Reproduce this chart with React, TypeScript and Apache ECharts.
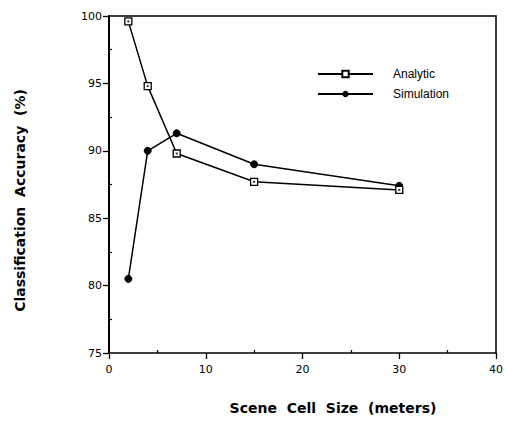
import React, { useEffect, useRef } from "react";
import * as echarts from "echarts";

const cellSizes = [2, 4, 7, 15, 30];
const analytic = [99.6, 94.8, 89.8, 87.7, 87.1];
const simulation = [80.5, 90.0, 91.3, 89.0, 87.4];
const seriesNames = ["Analytic", "Simulation"];
const xMinorTicks = [5, 15, 25, 35];
const yMinorTicks = [77.5, 82.5, 87.5, 92.5, 97.5];

export default function App() {
  const ref = useRef<HTMLDivElement>(null);
  useEffect(() => {
    if (!ref.current) return;
    const chart = echarts.init(ref.current, null, { renderer: "svg" });
    const font = "'Liberation Sans', Arial, Helvetica, sans-serif";
    const dv = "'DejaVu Sans', sans-serif";
    const aData = cellSizes.map((x, i) => [x, analytic[i]]);
    const sData = cellSizes.map((x, i) => [x, simulation[i]]);
    const hidden = { show: false };
    const noLine = { show: false, onZero: false };
    chart.setOption({
      animation: false,
      backgroundColor: "#fff",
      grid: { left: 109, right: 8, top: 16, bottom: 70 },
      legend: {
        data: seriesNames,
        orient: "vertical",
        left: 312,
        top: 63,
        itemWidth: 55,
        itemHeight: 8,
        itemGap: 8,
        textStyle: { fontFamily: font, fontSize: 12, color: "#000", padding: [0, 0, 0, 15] },
      },
      xAxis: [
        {
          type: "value",
          min: 0,
          max: 40,
          interval: 10,
          position: "bottom",
          name: "Scene  Cell  Size  (meters)",
          nameLocation: "middle",
          nameGap: 48,
          nameTextStyle: { fontFamily: dv, fontSize: 14, fontWeight: "bold", color: "#000", padding: [0, 0, 0, 61] },
          axisLine: { show: true, onZero: false, lineStyle: { color: "#000", width: 1.5 } },
          axisTick: { show: true, inside: false, length: 6, lineStyle: { color: "#000", width: 1.3 } },
          splitLine: hidden,
          axisLabel: { fontFamily: dv, fontSize: 11, color: "#000", margin: 11 },
        },
        {
          type: "value",
          min: 0,
          max: 40,
          interval: 5,
          position: "bottom",
          axisLine: noLine,
          axisLabel: hidden,
          splitLine: hidden,
          axisTick: { show: true, inside: true, length: 3, customValues: xMinorTicks, lineStyle: { color: "#000", width: 1.2 } },
        },
        {
          type: "value",
          min: 0,
          max: 40,
          position: "top",
          axisLine: { show: true, onZero: false, lineStyle: { color: "#000", width: 1.5 } },
          axisLabel: hidden,
          axisTick: hidden,
          splitLine: hidden,
        },
      ],
      yAxis: [
        {
          type: "value",
          min: 75,
          max: 100,
          interval: 5,
          position: "left",
          name: "Classification  Accuracy  (%)",
          nameLocation: "middle",
          nameGap: 82,
          nameRotate: 90,
          nameTextStyle: { fontFamily: dv, fontSize: 14, fontWeight: "bold", color: "#000", padding: [0, 32, 0, 0] },
          axisLine: { show: true, onZero: false, lineStyle: { color: "#000", width: 2 } },
          axisTick: { show: true, inside: false, length: 6, lineStyle: { color: "#000", width: 1.3 } },
          splitLine: hidden,
          axisLabel: { fontFamily: dv, fontSize: 11, color: "#000", margin: 7 },
        },
        {
          type: "value",
          min: 75,
          max: 100,
          interval: 2.5,
          position: "left",
          axisLine: noLine,
          axisLabel: hidden,
          splitLine: hidden,
          axisTick: { show: true, inside: true, length: 3, customValues: yMinorTicks, lineStyle: { color: "#000", width: 1.2 } },
        },
        {
          type: "value",
          min: 75,
          max: 100,
          position: "right",
          axisLine: { show: true, onZero: false, lineStyle: { color: "#000", width: 1.5 } },
          axisLabel: hidden,
          axisTick: hidden,
          splitLine: hidden,
        },
      ],
      series: [
        {
          name: "Analytic",
          type: "line",
          data: aData,
          symbol: "rect",
          symbolSize: 7,
          itemStyle: { color: "#fff", borderColor: "#000", borderWidth: 1.3 },
          lineStyle: { color: "#000", width: 1.5 },
          z: 3,
        },
        {
          name: "Analytic-dot",
          type: "scatter",
          data: aData,
          symbol: "rect",
          symbolSize: 2,
          itemStyle: { color: "#000" },
          silent: true,
          z: 4,
        },
        {
          name: "Simulation",
          type: "line",
          data: sData,
          symbol: "circle",
          symbolSize: 7,
          itemStyle: { color: "#000", borderColor: "#000" },
          lineStyle: { color: "#000", width: 1.5 },
          z: 2,
        },
      ],
    });
    return () => chart.dispose();
  }, []);
  return <div ref={ref} style={{ width: 506, height: 423, position: "absolute", left: 0, top: 0 }} />;
}
